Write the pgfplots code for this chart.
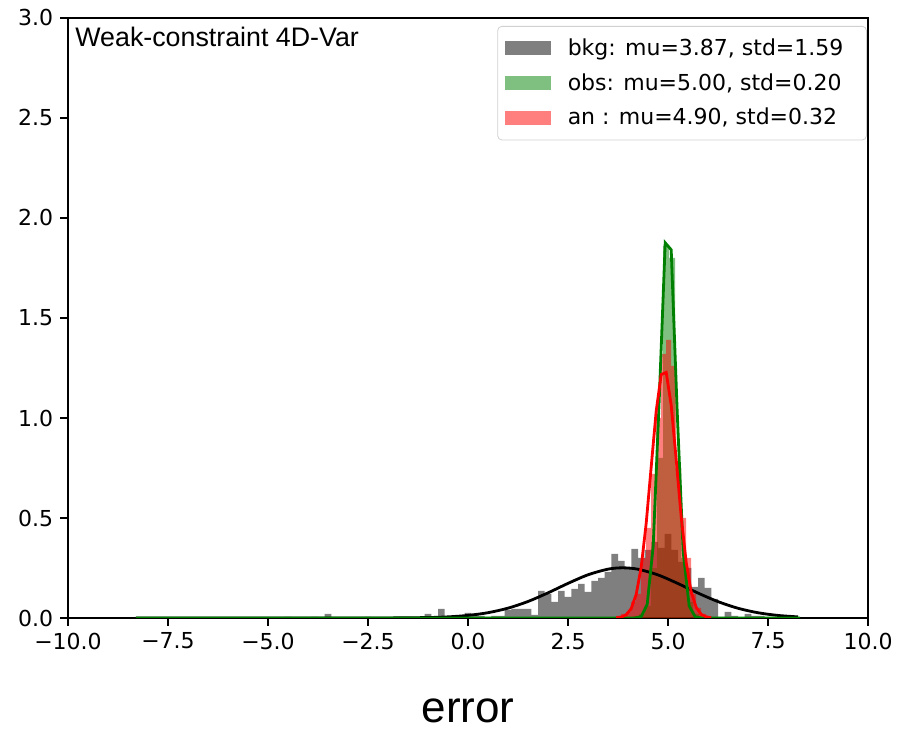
\documentclass[border=0pt]{standalone}
\usepackage{fontspec}
\setmainfont{DejaVu Sans}
\newfontfamily\arial{Liberation Sans}
\usepackage{pgfplots}
\pgfplotsset{compat=1.18}
\usetikzlibrary{calc}
\definecolor{mplgreen}{RGB}{0,128,0}
\begin{document}
\begin{tikzpicture}
\begin{axis}[
  name=ax,
  scale only axis,
  width=400pt, height=300pt,
  xmin=-10, xmax=10, ymin=0, ymax=3,
  xtick={-10,-7.5,-5,-2.5,0,2.5,5,7.5,10},
  xticklabels={−10.0,−7.5,−5.0,−2.5,0.0,2.5,5.0,7.5,10.0},
  ytick={0,0.5,1,1.5,2,2.5,3},
  yticklabels={0.0,0.5,1.0,1.5,2.0,2.5,3.0},
  tick align=outside,
  major tick length=3.85pt,
  tick pos=left,
  axis line style={line width=0.85pt},
  every tick/.style={black, line width=0.85pt},
  tick label style={font=\fontsize{11}{13}\selectfont},
  xlabel={error},
  xlabel style={font=\arial\fontsize{22}{26}\selectfont, inner sep=0pt, at={(axis description cs:0.5,0)}, anchor=center, yshift=-46.5pt},
  legend cell align=left,
  legend style={at={(0.9985,0.9867)}, anchor=north east, draw=black!18, rounded corners=2pt,
    fill=white, font=\fontsize{11}{13}\selectfont, inner xsep=3.5pt, inner ysep=4pt, row sep=3.6pt,
    /tikz/every odd column/.style={column sep=6.5pt}},
]
% background histogram
\addplot[const plot, fill=black, fill opacity=0.5, draw=none,
  legend image code/.code={\fill[black, fill opacity=0.5, sharp corners, draw=none] (0pt,-3.4pt) rectangle (23pt,3.4pt);}]
coordinates {(-8.25,0) (-4.583,0.005) (-4.417,0) (-3.917,0.005) (-3.750,0) (-3.583,0.02) (-3.417,0) (-2.583,0.005) (-2.417,0) (-1.750,0.005) (-1.583,0.005) (-1.417,0) (-1.083,0.02) (-0.917,0) (-0.750,0.045) (-0.583,0.005) (-0.417,0.01) (-0.250,0) (-0.083,0.025) (0.083,0.02) (0.250,0.01) (0.417,0.005) (0.583,0.01) (0.750,0.01) (0.917,0.04) (1.083,0.045) (1.250,0.045) (1.417,0.045) (1.583,0.015) (1.750,0.135) (1.917,0.12) (2.083,0.08) (2.250,0.135) (2.417,0.105) (2.583,0.145) (2.750,0.17) (2.917,0.13) (3.083,0.185) (3.250,0.2) (3.417,0.23) (3.583,0.32) (3.750,0.285) (3.917,0.245) (4.083,0.345) (4.250,0.3) (4.417,0.34) (4.583,0.38) (4.750,0.35) (4.917,0.42) (5.083,0.34) (5.250,0.28) (5.417,0.25) (5.583,0.155) (5.750,0.2) (5.917,0.15) (6.083,0.095) (6.250,0.005) (6.417,0.03) (6.583,0.01) (6.750,0) (6.917,0.02) (7.083,0.01) (7.250,0.01) (7.417,0) (7.583,0.005) (7.750,0) (8.25,0)} \closedcycle;
\addlegendentry{bkg: mu=3.87, std=1.59\hspace*{6pt}\mbox{}}
% observation histogram
\addplot[const plot, fill=mplgreen, fill opacity=0.5, draw=none,
  legend image code/.code={\fill[mplgreen, fill opacity=0.5, sharp corners, draw=none] (0pt,-3.4pt) rectangle (23pt,3.4pt);}]
coordinates {(4.13,0.01) (4.28,0.02) (4.43,0.06) (4.58,0.25) (4.73,0.8) (4.88,1.86) (5.03,1.8) (5.18,0.75) (5.33,0.3) (5.48,0.08) (5.63,0.02) (5.78,0)} \closedcycle;
\addlegendentry{obs: mu=5.00, std=0.20\hspace*{6pt}\mbox{}}
% analysis histogram
\addplot[const plot, fill=red, fill opacity=0.5, draw=none,
  legend image code/.code={\fill[red, fill opacity=0.5, sharp corners, draw=none] (0pt,-3.4pt) rectangle (23pt,3.4pt);}]
coordinates {(3.705,0.01) (3.83,0.02) (3.955,0.03) (4.08,0.08) (4.205,0.12) (4.33,0.3) (4.455,0.45) (4.58,0.72) (4.705,1.0) (4.83,1.32) (4.955,1.39) (5.08,1.26) (5.205,0.75) (5.33,0.5) (5.455,0.3) (5.58,0.12) (5.705,0.05) (5.83,0.02) (5.955,0.01) (6.08,0)} \closedcycle;
\addlegendentry{an : mu=4.90, std=0.32\hspace*{6pt}\mbox{}}
% fitted normal curves
\addplot[black, line width=1.4pt, smooth, forget plot] coordinates {(-8.3,0) (-3,0.0000) (-2,0.0003) (-1,0.0023) (-0.5,0.0057) (0,0.0130) (0.5,0.0265) (1,0.0492) (1.5,0.0826) (2,0.1257) (2.5,0.1731) (3,0.2160) (3.5,0.2442) (3.87,0.2509) (4.25,0.2438) (4.75,0.2153) (5.25,0.1722) (5.75,0.1247) (6.25,0.0819) (6.75,0.0487) (7.25,0.0262) (7.75,0.0128) (8.25,0.0056)};
\addplot[mplgreen, line width=1.4pt, forget plot] coordinates {(-8.3,0) (4.03,0) (4.18,0.0004) (4.33,0.0073) (4.48,0.0679) (4.63,0.360) (4.78,1.089) (4.93,1.876) (5.08,1.841) (5.23,1.030) (5.38,0.328) (5.53,0.0596) (5.68,0.0062) (5.83,0.0004) (5.98,0) (8.3,0)};
\addplot[red, line width=1.4pt, forget plot] coordinates {(3.705,0.0012) (3.83,0.0047) (3.955,0.0159) (4.08,0.0468) (4.205,0.118) (4.33,0.255) (4.455,0.474) (4.58,0.756) (4.705,1.035) (4.83,1.217) (4.955,1.228) (5.08,1.064) (5.205,0.792) (5.33,0.505) (5.455,0.277) (5.58,0.130) (5.705,0.0527) (5.83,0.0183) (5.955,0.0054) (6.08,0.0014)};
\node[anchor=north west, font=\arial\fontsize{13.4}{16}\selectfont, inner sep=0pt] at (rel axis cs:0,1) [xshift=3.5pt, yshift=-4.5pt] {Weak-constraint 4D-Var};
\end{axis}
\pgfresetboundingbox
\path[use as bounding box] ($(ax.south west)+(-34pt,-56.5pt)$) rectangle ($(ax.north east)+(15pt,9pt)$);
\end{tikzpicture}
\end{document}
